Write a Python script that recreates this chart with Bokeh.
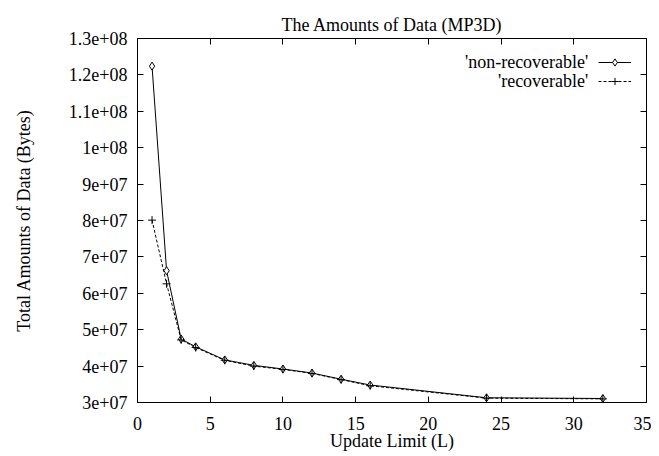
from bokeh.plotting import figure
from bokeh.models import (LinearAxis, FixedTicker, Legend, LegendItem, Label,
                          CustomJSTickFormatter, Range1d)
from bokeh.core.properties import value
from bokeh.embed import file_html
from bokeh.resources import INLINE

# ---- data ----
update_limit = [1, 2, 3, 4, 6, 8, 10, 12, 14, 16, 24, 32]
non_recoverable = [1.224e8, 6.62e7, 4.745e7, 4.53e7, 4.17e7, 4.02e7, 3.92e7,
                   3.81e7, 3.64e7, 3.48e7, 3.13e7, 3.11e7]
recoverable = [8.01e7, 6.26e7, 4.72e7, 4.51e7, 4.16e7, 4.0e7, 3.91e7,
               3.80e7, 3.63e7, 3.46e7, 3.12e7, 3.10e7]
series_names = ["'non-recoverable'", "'recoverable'"]
x_ticks = [0, 5, 10, 15, 20, 25, 30, 35]
y_ticks = [3e7, 4e7, 5e7, 6e7, 7e7, 8e7, 9e7, 1e8, 1.1e8, 1.2e8, 1.3e8]
y_tick_labels = ["3e+07", "4e+07", "5e+07", "6e+07", "7e+07", "8e+07",
                 "9e+07", "1e+08", "1.1e+08", "1.2e+08", "1.3e+08"]

FONT = "Liberation Serif"
FS = "18px"

p = figure(output_backend="svg", toolbar_location=None,
           frame_width=509, frame_height=364,
           min_border_left=137, min_border_right=5,
           min_border_top=38, min_border_bottom=50,
           x_range=Range1d(0, 35), y_range=Range1d(3e7, 1.3e8),
           title="The Amounts of Data (MP3D)")
p.title.text_font = FONT
p.title.text_font_size = FS
p.title.text_font_style = "normal"
p.title.align = "center"
p.title.text_color = "black"
p.title.standoff = 7

p.grid.visible = False
p.outline_line_color = "black"
p.outline_line_width = 1
p.background_fill_color = "white"
p.border_fill_color = "white"

# main axes
xa = p.xaxis[0]
xa.ticker = FixedTicker(ticks=x_ticks)
ya = p.yaxis[0]
ya.ticker = FixedTicker(ticks=y_ticks)
ya.major_label_overrides = {v: s for v, s in zip(y_ticks, y_tick_labels)}
xa.axis_label = "Update Limit (L)"
ya.axis_label = "Total Amounts of Data (Bytes)"
for ax in (xa, ya):
    ax.major_tick_in = 6
    ax.major_tick_out = 0
    ax.minor_tick_line_color = None
    ax.axis_line_color = None
    ax.major_tick_line_color = "black"
    ax.major_label_text_font = FONT
    ax.major_label_text_font_size = FS
    ax.major_label_text_color = "black"
    ax.axis_label_text_font = FONT
    ax.axis_label_text_font_size = FS
    ax.axis_label_text_font_style = "normal"
    ax.axis_label_text_color = "black"
xa.major_label_standoff = 14
xa.axis_label_standoff = -2
ya.major_label_standoff = 10
ya.axis_label_standoff = 32

# mirrored tick axes
blank = CustomJSTickFormatter(code="return ''")
for loc, ticks in (("above", x_ticks), ("right", y_ticks)):
    ax = LinearAxis(ticker=FixedTicker(ticks=ticks), formatter=blank,
                    major_tick_in=6, major_tick_out=0,
                    minor_tick_line_color=None, axis_line_color=None,
                    major_label_standoff=0)
    p.add_layout(ax, loc)

# series
r1l = p.line(update_limit, non_recoverable, line_color="black", line_width=1)
r1m = p.scatter(update_limit, non_recoverable, marker="diamond", size=8,
                line_color="black", fill_color="white", line_width=1)
r2l = p.line(update_limit, recoverable, line_color="black", line_width=1,
             line_dash="3 2")
r2m = p.scatter(update_limit, recoverable, marker="cross", size=8,
                line_color="black", line_width=1)

legend = Legend(items=[LegendItem(label=value(""), renderers=[r1l, r1m]),
                       LegendItem(label=value(""), renderers=[r2l, r2m])],
                location="top_right", glyph_width=33, glyph_height=18,
                label_width=0, label_standoff=0,
                padding=0, spacing=1, margin=15,
                border_line_color=None, background_fill_alpha=0)
p.add_layout(legend)

# legend texts (right-aligned, left of the samples, gnuplot style)
legend_text_y = [1.2354e8, 1.1832e8]
for name, ty in zip(series_names, legend_text_y):
    p.add_layout(Label(x=31.0, y=ty, text=name, text_align="right",
                       text_baseline="middle", text_font=FONT,
                       text_font_size=FS, text_color="black"))

open("out.html", "w").write(file_html(p, INLINE))
